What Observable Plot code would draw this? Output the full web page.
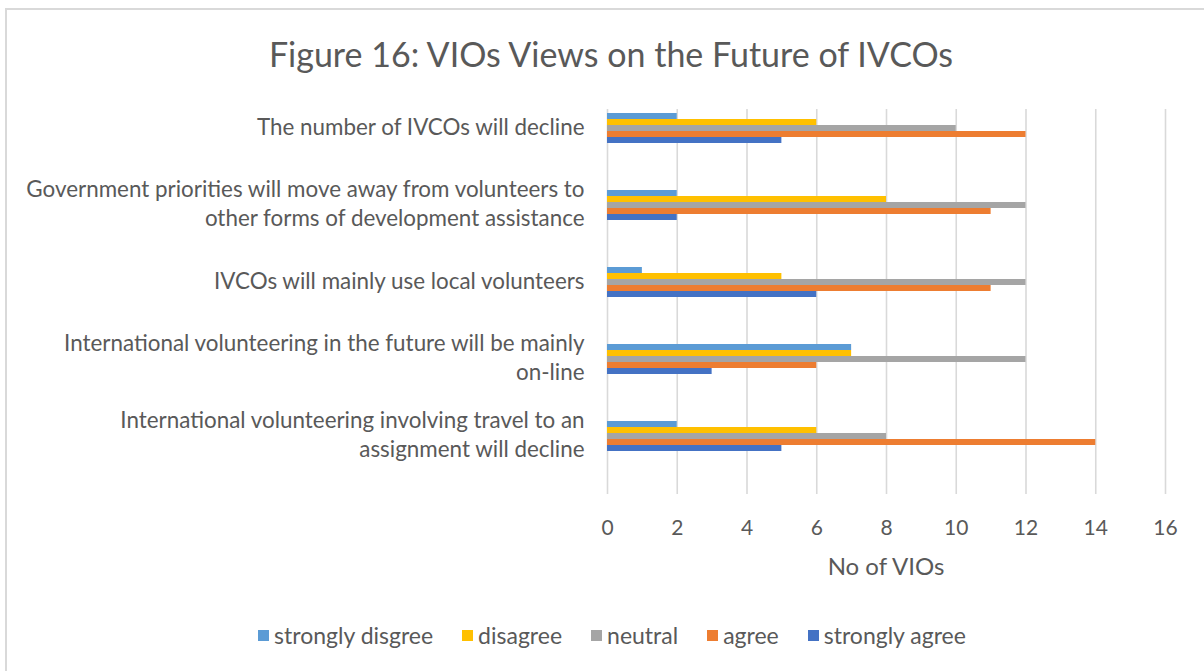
<!DOCTYPE html>
<html>
<head>
<meta charset="utf-8">
<script src="https://cdn.jsdelivr.net/npm/d3@7"></script>
<script src="https://cdn.jsdelivr.net/npm/@observablehq/plot@0.6"></script>
<style>
  html, body { margin: 0; padding: 0; background: #fff; }
  body { width: 1204px; height: 671px; position: relative; overflow: hidden; font-family: Lato, "Open Sans", sans-serif; color: #595959; }
  #frame { position: absolute; left: 5px; top: 8px; width: 1300px; height: 800px; border-left: 2px solid #d9d9d9; border-top: 2px solid #d9d9d9; box-sizing: border-box; }
  #title { position: absolute; left: 0; top: 34px; width: 1222px; text-align: center; font-size: 34px; line-height: 40px; }
  #chart { position: absolute; left: 0; top: 0; }
  #xlabel { position: absolute; left: 686px; width: 400px; top: 551px; text-align: center; font-size: 24px; line-height: 30px; }
  #legend { position: absolute; left: 0; width: 1224px; top: 620px; display: flex; justify-content: center; gap: 29px; font-size: 23px; line-height: 30px; }
  .item { display: flex; align-items: center; gap: 5px; }
  .sw { width: 11px; height: 11px; display: inline-block; }
</style>
</head>
<body>
<div id="frame"></div>
<div id="chart"></div>
<div id="title">Figure 16: VIOs Views on the Future of IVCOs</div>
<div id="xlabel">No of VIOs</div>
<div id="legend"></div>
<script>
const categories = [
  "The number of IVCOs will decline",
  "Government priorities will move away from volunteers to\nother forms of development assistance",
  "IVCOs will mainly use local volunteers",
  "International volunteering in the future will be mainly\non-line",
  "International volunteering involving travel to an\nassignment will decline"
];
const seriesNames = ["strongly disgree", "disagree", "neutral", "agree", "strongly agree"];
const seriesColors = ["#5B9BD5", "#FFC000", "#A5A5A5", "#ED7D31", "#4472C4"];
const stronglyDisagree = [2, 2, 1, 7, 2];
const disagree = [6, 8, 5, 7, 6];
const neutral = [10, 12, 12, 12, 8];
const agree = [12, 11, 11, 6, 14];
const stronglyAgree = [5, 2, 6, 3, 5];
const xTicks = [0, 2, 4, 6, 8, 10, 12, 14, 16];

const valuesBySeries = [stronglyDisagree, disagree, neutral, agree, stronglyAgree];
const data = [];
categories.forEach((c, i) => {
  seriesNames.forEach((s, j) => data.push({category: c, series: s, value: valuesBySeries[j][i]}));
});

const chart = Plot.plot({
  width: 1204,
  height: 600,
  marginLeft: 607,
  marginRight: 39,
  marginTop: 108,
  marginBottom: 105,
  style: {fontFamily: "Lato, 'Open Sans', sans-serif", fontSize: "21px", color: "#595959", background: "transparent", overflow: "visible"},
  fy: {domain: categories, padding: 0, axis: null},
  y: {domain: seriesNames, paddingInner: 0, paddingOuter: 3.8, align: 0.08, axis: null},
  x: {domain: [0, 16], ticks: xTicks, tickSize: 0, tickPadding: 26, tickFormat: d => String(d), label: null},
  color: {domain: seriesNames, range: seriesColors},
  marks: [
    Plot.ruleX(xTicks, {stroke: "#d9d9d9", strokeWidth: 1.6}),
    Plot.barX(data, {fy: "category", y: "series", x: "value", fill: "series", inset: 0}),
    Plot.text(categories, {
      fy: d => d,
      y: () => "neutral",
      text: d => d,
      frameAnchor: "left",
      textAnchor: "end",
      lineAnchor: "middle",
      dx: -23,
      dy: -3,
      fontSize: 22.4,
      lineHeight: 1.3,
      fill: "#595959"
    })
  ]
});
document.getElementById("chart").appendChild(chart);

const legend = document.getElementById("legend");
seriesNames.forEach((s, i) => {
  const item = document.createElement("div");
  item.className = "item";
  const sw = document.createElement("span");
  sw.className = "sw";
  sw.style.background = seriesColors[i];
  const t = document.createElement("span");
  t.textContent = s;
  item.appendChild(sw);
  item.appendChild(t);
  legend.appendChild(item);
});
</script>
</body>
</html>
